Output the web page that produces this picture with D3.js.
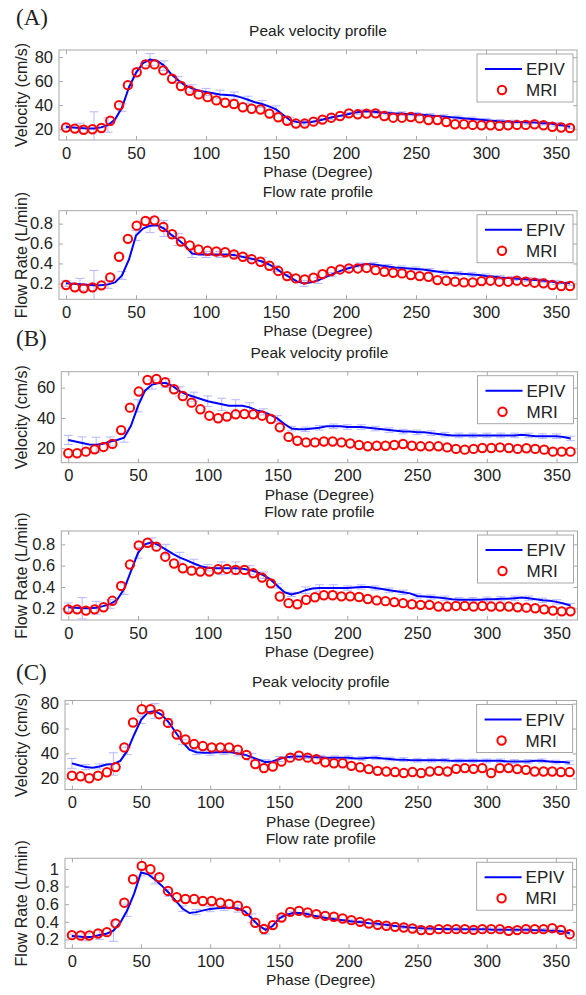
<!DOCTYPE html>
<html><head><meta charset="utf-8">
<script src="https://cdn.jsdelivr.net/npm/d3@7"></script>
<style>body{margin:0;background:#fff}svg{display:block}text{font-family:"Liberation Sans",Arial,sans-serif;fill:#222}</style>
</head><body>
<svg id="chart" width="586" height="995"></svg>
<script>
// ---------- data ----------
const xTicks = [0,50,100,150,200,250,300,350];
const velTicksAC = [20,40,60,80];
const velTicksB = [20,40,60];
const flowTicksAB = [0.2,0.4,0.6,0.8];
const flowTicksC = [0.2,0.4,0.6,0.8,1];

const mriPhase = [0,6.3,12.6,18.9,25.3,31.6,37.9,44.2,50.5,56.8,63.2,69.5,75.8,82.1,88.4,94.7,101.1,107.4,113.7,120,126.3,132.6,138.9,145.3,151.6,157.9,164.2,170.5,176.8,183.2,189.5,195.8,202.1,208.4,214.7,221.1,227.4,233.7,240,246.3,252.6,258.9,265.3,271.6,277.9,284.2,290.5,296.8,303.2,309.5,315.8,322.1,328.4,334.7,341.1,347.4,353.7,360];
const epivPhase = [0,5,10,15,20,25,30,35,40,45,50,55,60,65,70,75,80,85,90,95,100,105,110,115,120,125,130,135,140,145,150,155,160,165,170,175,180,185,190,195,200,205,210,215,220,225,230,235,240,245,250,255,260,265,270,275,280,285,290,295,300,305,310,315,320,325,330,335,340,345,350,355,360];
const errPhase = [0,10,20,30,40,50,60,70,80,90,100,110,120,130,140,150,160,170,180,190,200,210,220,230,240,250,260,270,280,290,300,310,320,330,340,350,360];

// (A) velocity
const mriVelA = [21.4,20.5,19.5,20,21,27,40,56.7,67.5,74,74,69,62,56,52,49,46.7,44,42,41,38.3,37,36.4,33,30,27,24.7,24.7,26.3,28,29.6,31,33.2,32.4,33,33.2,31,29.6,29.6,30.2,29,27.7,27.7,26,24.1,24.1,23.6,23.3,23.3,22.8,23.3,23.6,23.6,24.1,23.3,22,21.4,21];
const epivVelA = [22,21.5,21,20.5,20.5,21.5,23.5,28,38,55,67,75,78,77,73,66,61,56.5,54,52,51,50,49,48.5,48,46.5,44.5,42.5,41,39,36.5,32,27.5,26,25.5,26,27,28.5,30,31,32,33.5,34.5,35,34.5,34,33.5,33,33,32.5,32.5,32,31.5,31,30.5,30,29.5,29,28.5,28,27.5,27,26.5,26.5,26,26,25.5,25.5,25,25,24,23,22];
const errVelA = [1.5,4,14,6,3,3,5,4,3,3,3,3.5,3,3,3,3,2.5,2,2,2,2,2,1.5,1.5,1.5,1.5,1.5,1.5,1.5,1.5,1.5,1.5,1.5,1.5,1.5,1.5,1.5];
// (A) flow
const mriFlowA = [0.183,0.16,0.15,0.16,0.18,0.26,0.467,0.647,0.78,0.827,0.833,0.767,0.693,0.62,0.58,0.54,0.527,0.52,0.513,0.49,0.467,0.443,0.417,0.377,0.325,0.273,0.25,0.24,0.257,0.293,0.323,0.34,0.35,0.35,0.355,0.333,0.317,0.307,0.3,0.283,0.273,0.267,0.233,0.227,0.217,0.21,0.21,0.223,0.227,0.217,0.217,0.227,0.217,0.207,0.2,0.183,0.173,0.173];
const epivFlowA = [0.20,0.195,0.19,0.185,0.18,0.18,0.19,0.21,0.28,0.44,0.68,0.75,0.78,0.785,0.75,0.69,0.64,0.58,0.50,0.49,0.49,0.49,0.49,0.49,0.485,0.47,0.455,0.44,0.42,0.39,0.35,0.30,0.26,0.22,0.20,0.21,0.23,0.26,0.29,0.32,0.345,0.365,0.385,0.395,0.39,0.38,0.37,0.36,0.355,0.35,0.345,0.34,0.33,0.32,0.31,0.305,0.30,0.295,0.29,0.285,0.275,0.27,0.26,0.255,0.25,0.245,0.24,0.235,0.23,0.22,0.21,0.205,0.20];
const errFlowA = [0.03,0.06,0.15,0.04,0.04,0.05,0.07,0.08,0.06,0.04,0.03,0.03,0.03,0.03,0.04,0.03,0.03,0.03,0.03,0.02,0.02,0.02,0.02,0.02,0.02,0.02,0.02,0.02,0.02,0.02,0.02,0.02,0.02,0.02,0.02,0.02,0.02];
// (B) velocity
const mriVelB = [16.7,16.7,17.8,19.3,20.9,22.9,32,46.8,57.4,65,65.7,63.5,58.9,54.5,50.1,45.7,41.5,39.8,40.9,42.4,42.6,42.4,41.5,39.3,33.8,27.5,25,23.9,23.9,24.5,24.5,23.9,23.2,22.2,21.3,21.7,21.7,22.2,22.8,21.7,21.3,21.3,21.3,20.6,19.6,19.1,19.6,20.2,20.2,20.6,20.2,19.6,20,19.6,19.1,17.8,17.8,17.8];
const epivVelB = [25.5,24.5,23.5,22.5,22.3,23,24.5,25.5,27,35,48,58,62,63,63,61,57.5,55.5,54,52.5,51,50,49,48,48,48,47,45,44,42,39.5,36,33,32.5,32.5,33,33.5,34.5,34.5,34.5,34,34,34,33.5,33,32.5,32,31.5,31,31,30.5,30.5,30,29.5,29,28.5,28.5,28.5,28.5,28.5,28.5,28.5,28.5,28.5,28.5,29,28.5,28,28,28,28,27.5,26.5];
const errVelB = [3,4,5,3,3,4,3,3,3,3,3.5,4,4,3,2,2,1.5,1.5,1.5,1.5,1.5,1.5,1.5,1.5,1.5,1.5,1.5,1.5,1.5,1.5,1.5,1.5,1.5,1.5,1.5,1.5,1.5];
// (B) flow
const mriFlowB = [0.19,0.19,0.178,0.19,0.21,0.27,0.41,0.61,0.79,0.815,0.778,0.684,0.62,0.575,0.553,0.544,0.544,0.566,0.569,0.56,0.56,0.528,0.488,0.434,0.31,0.248,0.238,0.28,0.303,0.322,0.322,0.312,0.312,0.306,0.287,0.274,0.267,0.258,0.248,0.238,0.232,0.232,0.216,0.216,0.222,0.222,0.216,0.222,0.216,0.216,0.216,0.21,0.206,0.2,0.19,0.178,0.171,0.171];
const epivFlowB = [0.21,0.205,0.20,0.20,0.205,0.22,0.24,0.28,0.38,0.55,0.72,0.80,0.82,0.79,0.75,0.71,0.675,0.65,0.62,0.595,0.58,0.575,0.575,0.575,0.575,0.57,0.56,0.54,0.51,0.47,0.41,0.35,0.33,0.345,0.37,0.385,0.39,0.39,0.39,0.39,0.39,0.395,0.40,0.40,0.39,0.38,0.37,0.36,0.35,0.34,0.315,0.31,0.305,0.30,0.295,0.285,0.28,0.28,0.28,0.28,0.285,0.285,0.29,0.29,0.295,0.30,0.295,0.285,0.275,0.27,0.26,0.245,0.225];
const errFlowB = [0.04,0.10,0.06,0.04,0.05,0.05,0.04,0.05,0.05,0.04,0.03,0.06,0.06,0.04,0.03,0.02,0.02,0.03,0.03,0.03,0.02,0.02,0.02,0.02,0.02,0.02,0.02,0.02,0.02,0.02,0.02,0.02,0.02,0.02,0.02,0.02,0.02];
// (C) velocity
const mriVelC = [22.1,21.6,20,22.1,24.8,29,44.8,64.8,75.5,75.5,71.5,64.5,55.2,51.2,47.5,45.9,44.8,44.8,44.8,43,38.7,31.5,28.2,29.5,33.4,36.6,38.2,36.6,35.3,32.9,32.1,32.1,30,28.9,27.4,26,25.5,25,24.2,25,24.2,25.5,26,25.5,27.6,28.2,27.6,28.2,24.2,28.2,28.2,27.4,26.8,25.5,25.5,25.5,25,25];
const epivVelC = [32,30.5,29,28.5,29.5,31,31.5,34,42,55,67,73,74,71,65,57,49,43,41,40.5,40.5,41,41,41,40,39,37,35,33,33.5,35.5,37,37.5,37.5,37.5,37,37,36.5,36.5,36.5,36.5,36,36,36.5,36.5,36,35.5,35,35,34.5,34.5,34.5,34.5,34.5,34.5,34,34,34,34,34,34,34,34,33.5,33.5,33.5,33.5,34,34,33.5,33,33,32.5];
const errVelC = [4,2,2,9,3,3,6,3,2,2,2,2,2,3,2,2,1.5,1.5,1.5,1.5,1.5,1.5,1.5,1.5,1.5,1.5,1.5,1.5,1.5,1.5,1.5,1.5,1.5,1.5,1.5,1.5,1.5];
// (C) flow
const mriFlowC = [0.249,0.245,0.245,0.268,0.283,0.382,0.617,0.882,1.034,0.996,0.905,0.75,0.678,0.659,0.659,0.636,0.636,0.617,0.602,0.583,0.522,0.39,0.318,0.363,0.449,0.513,0.524,0.506,0.487,0.468,0.457,0.438,0.419,0.4,0.381,0.366,0.355,0.343,0.336,0.324,0.306,0.306,0.317,0.317,0.317,0.317,0.309,0.317,0.317,0.317,0.298,0.306,0.317,0.317,0.317,0.328,0.309,0.26];
const epivFlowC = [0.24,0.235,0.225,0.23,0.25,0.265,0.30,0.39,0.53,0.72,0.96,0.94,0.88,0.81,0.73,0.64,0.55,0.50,0.51,0.53,0.545,0.555,0.56,0.56,0.55,0.52,0.44,0.36,0.31,0.35,0.44,0.48,0.50,0.50,0.49,0.47,0.455,0.44,0.43,0.42,0.41,0.40,0.395,0.385,0.38,0.37,0.36,0.35,0.345,0.335,0.33,0.325,0.325,0.32,0.32,0.315,0.315,0.315,0.315,0.315,0.315,0.31,0.31,0.31,0.31,0.31,0.31,0.305,0.305,0.30,0.30,0.29,0.27];
const errFlowC = [0.02,0.04,0.05,0.12,0.07,0.04,0.05,0.04,0.03,0.03,0.03,0.03,0.04,0.05,0.05,0.03,0.02,0.02,0.02,0.02,0.02,0.02,0.02,0.02,0.02,0.03,0.02,0.02,0.02,0.02,0.02,0.02,0.02,0.02,0.02,0.02,0.02];

// ---------- layout ----------
const panels = [
  {letter:"(A)", title:"Peak velocity profile", ylabel:"Velocity (cm/s)", mri:mriVelA, epiv:epivVelA, err:errVelA, yDomain:[11,86], yTicks:velTicksAC, box:{l:59,r:577,t:50,b:140}},
  {title:"Flow rate profile", ylabel:"Flow Rate (L/min)", mri:mriFlowA, epiv:epivFlowA, err:errFlowA, yDomain:[0.04,0.93], yTicks:flowTicksAB, box:{l:59,r:577,t:210.7,b:299.3}},
  {letter:"(B)", title:"Peak velocity profile", ylabel:"Velocity (cm/s)", mri:mriVelB, epiv:epivVelB, err:errVelB, yDomain:[10.5,70.5], yTicks:velTicksB, box:{l:61.3,r:577.5,t:371.7,b:462.7}},
  {title:"Flow rate profile", ylabel:"Flow Rate (L/min)", mri:mriFlowB, epiv:epivFlowB, err:errFlowB, yDomain:[0.09,0.925], yTicks:flowTicksAB, box:{l:61.3,r:577.5,t:531,b:620}},
  {letter:"(C)", title:"Peak velocity profile", ylabel:"Velocity (cm/s)", mri:mriVelC, epiv:epivVelC, err:errVelC, yDomain:[11,82.5], yTicks:velTicksAC, box:{l:65,r:576.6,t:700.5,b:789.5}},
  {title:"Flow rate profile", ylabel:"Flow Rate (L/min)", mri:mriFlowC, epiv:epivFlowC, err:errFlowC, yDomain:[0.1,1.12], yTicks:flowTicksC, box:{l:65,r:576.6,t:858.3,b:948.3}}
];
const letterY = [25, null, 346, null, 680, null];

const svg = d3.select("#chart");
const axisColor = "#a8a8a8";

panels.forEach((p, pi) => {
  const b = p.box;
  const x = d3.scaleLinear().domain([-5,365]).range([b.l,b.r]);
  const y = d3.scaleLinear().domain(p.yDomain).range([b.b,b.t]);
  const g = svg.append("g");
  const clipId = "clip" + pi;
  g.append("clipPath").attr("id", clipId).append("rect")
    .attr("x", b.l).attr("y", b.t).attr("width", b.r-b.l).attr("height", b.b-b.t);

  // axes box
  g.append("rect").attr("x", b.l).attr("y", b.t).attr("width", b.r-b.l).attr("height", b.b-b.t)
    .attr("fill", "none").attr("stroke", axisColor).attr("stroke-width", 1);

  const xb = g.append("g").attr("transform", `translate(0,${b.b})`)
    .call(d3.axisBottom(x).tickValues(xTicks).tickSize(-4).tickPadding(7).tickFormat(d3.format("d")));
  const xt = g.append("g").attr("transform", `translate(0,${b.t})`)
    .call(d3.axisTop(x).tickValues(xTicks).tickSize(-4).tickFormat(""));
  const yl = g.append("g").attr("transform", `translate(${b.l},0)`)
    .call(d3.axisLeft(y).tickValues(p.yTicks).tickSize(-4).tickPadding(6).tickFormat(d => (d===1? "1" : (d<1 ? d3.format(".1f")(d) : d))));
  const yr = g.append("g").attr("transform", `translate(${b.r},0)`)
    .call(d3.axisRight(y).tickValues(p.yTicks).tickSize(-4).tickFormat(""));
  [xb,xt,yl,yr].forEach(a => {
    a.select(".domain").remove();
    a.selectAll(".tick line").attr("stroke", axisColor);
    a.selectAll(".tick text").style("font-family","'Liberation Sans',Arial,sans-serif").style("font-size","16.5px").attr("fill","#222");
  });

  // error bars
  const eg = g.append("g").attr("clip-path", `url(#${clipId})`);
  errPhase.forEach((ph, i) => {
    const k = epivPhase.indexOf(ph);
    const c = p.epiv[k], e = p.err[i];
    const xx = x(ph);
    eg.append("line").attr("x1", xx).attr("x2", xx).attr("y1", y(c-e)).attr("y2", y(c+e))
      .attr("stroke", "#b4b8ff").attr("stroke-width", 1);
    [c-e, c+e].forEach(v => eg.append("line").attr("x1", xx-4.5).attr("x2", xx+4.5)
      .attr("y1", y(v)).attr("y2", y(v)).attr("stroke", "#b4b8ff").attr("stroke-width", 1));
  });

  // EPIV line
  const line = d3.line().x((d,i) => x(epivPhase[i])).y(d => y(d));
  g.append("path").datum(p.epiv).attr("clip-path", `url(#${clipId})`)
    .attr("d", line).attr("fill", "none").attr("stroke", "#0000ff").attr("stroke-width", 2);

  // MRI circles
  g.append("g").selectAll("circle").data(p.mri).join("circle")
    .attr("cx", (d,i) => x(mriPhase[i])).attr("cy", d => y(d)).attr("r", 4.2)
    .attr("fill", "none").attr("stroke", "#ff0000").attr("stroke-width", 2);

  // title, labels
  const cx = (b.l + b.r) / 2;
  g.append("text").attr("x", cx).attr("y", b.t - 14).attr("text-anchor", "middle")
    .style("font-size", "15.5px").text(p.title);
  g.append("text").attr("x", cx).attr("y", b.b + 37).attr("text-anchor", "middle")
    .style("font-size", "15.5px").text("Phase (Degree)");
  g.append("text").attr("transform", `translate(27,${(b.t+b.b)/2}) rotate(-90)`).attr("text-anchor", "middle")
    .style("font-size", "16px").text(p.ylabel);

  // legend
  const lw = 96, lh = 48, lx = b.r - 4 - lw, ly = b.t + 4;
  const lg = g.append("g");
  lg.append("rect").attr("x", lx).attr("y", ly).attr("width", lw).attr("height", lh)
    .attr("fill", "#fff").attr("stroke", axisColor).attr("stroke-width", 1);
  lg.append("line").attr("x1", lx+8).attr("x2", lx+45).attr("y1", ly+15).attr("y2", ly+15)
    .attr("stroke", "#0000ff").attr("stroke-width", 2);
  lg.append("text").attr("x", lx+49).attr("y", ly+21).style("font-size", "17px").text("EPIV");
  lg.append("circle").attr("cx", lx+25).attr("cy", ly+36).attr("r", 4.2)
    .attr("fill", "none").attr("stroke", "#ff0000").attr("stroke-width", 2);
  lg.append("text").attr("x", lx+49).attr("y", ly+42).style("font-size", "17px").text("MRI");

  if (p.letter) {
    svg.append("text").attr("x", 16).attr("y", letterY[pi])
      .style("font-family", "'Liberation Serif','Times New Roman',serif").style("font-size", "23px")
      .text(p.letter);
  }
});
</script>
</body></html>
